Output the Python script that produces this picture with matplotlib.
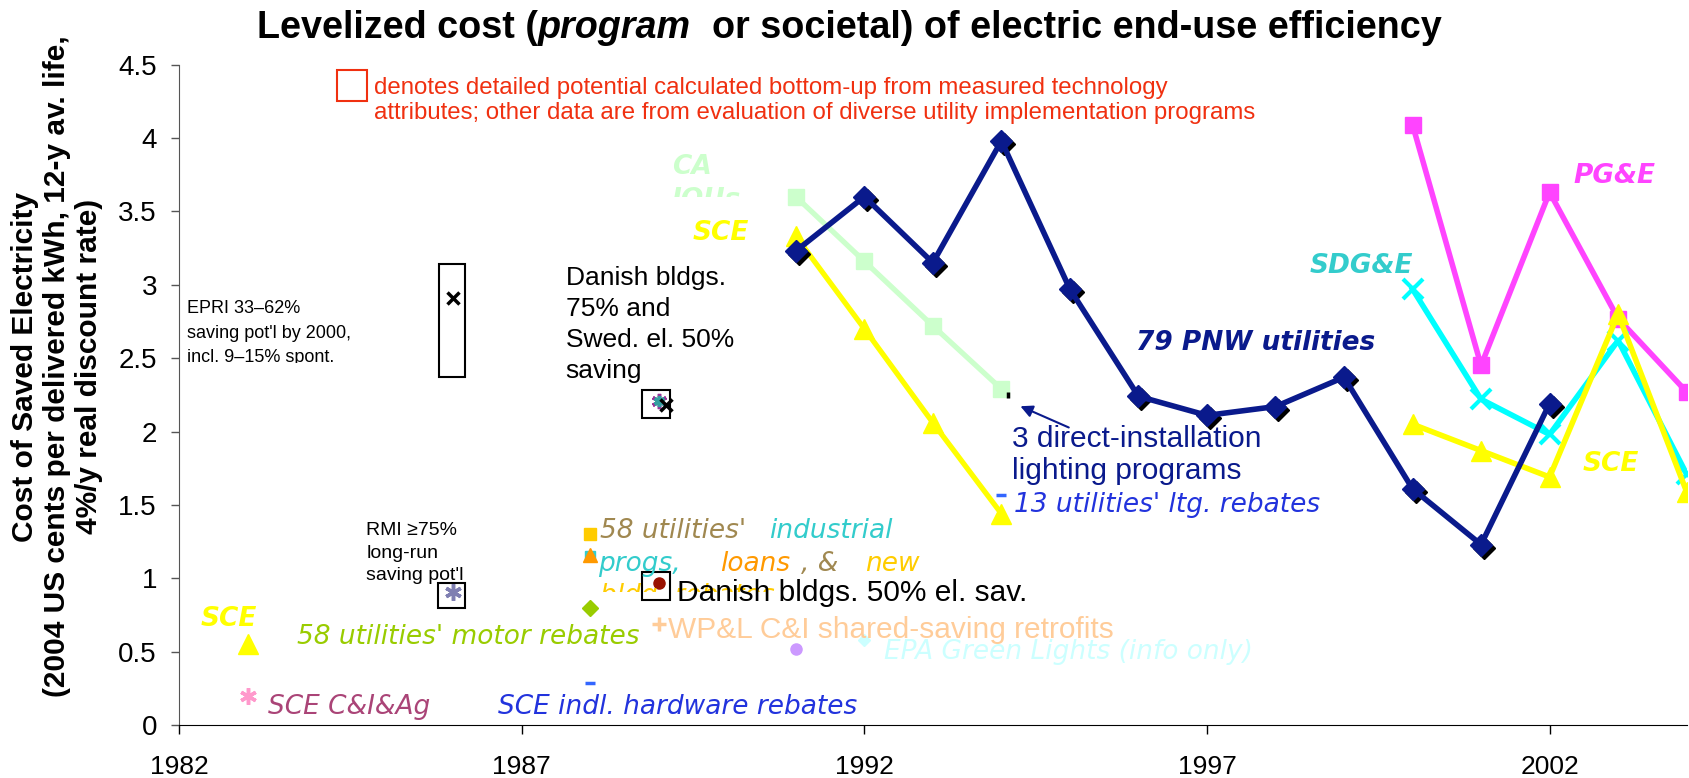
import matplotlib
matplotlib.use('Agg')
import matplotlib.pyplot as plt
from matplotlib.patches import Rectangle
from matplotlib.transforms import Bbox, TransformedBbox, ScaledTranslation

SANS = ['Liberation Sans', 'DejaVu Sans']
VERD = ['DejaVu Sans']

# main series
pnw_years = [1991, 1992, 1993, 1994, 1995, 1996, 1997, 1998, 1999, 2000, 2001, 2002]
pnw_cost = [3.23, 3.60, 3.15, 3.98, 2.97, 2.24, 2.11, 2.17, 2.37, 1.61, 1.23, 2.19]
ca_years = [1991, 1992, 1993, 1994]
ca_cost = [3.60, 3.16, 2.72, 2.29]
sce_early_years = [1991, 1992, 1993, 1994]
sce_early_cost = [3.33, 2.70, 2.06, 1.44]
late_years = [2000, 2001, 2002, 2003, 2004]
sce_late_cost = [2.05, 1.87, 1.69, 2.80, 1.59]
pge_cost = [4.09, 2.45, 3.63, 2.77, 2.27]
sdge_cost = [2.97, 2.22, 1.98, 2.62, 1.71]

# single points: year, cost, marker, colour, size
points = [
    (1983.0, 0.55, '^', '#ffff00', 14),
    (1983.0, 0.20, (6, 2, 0), '#ff99cc', 12),
    (1986.0, 0.91, (6, 2, 0), '#7f7fb2', 12),
    (1986.0, 2.91, 'x', '#000000', 8),
    (1989.0, 2.21, (6, 2, 0), '#993399', 11),
    (1989.0, 2.21, (6, 2, 0), '#33a0a0', 8),
    (1989.1, 2.18, 'x', '#000000', 8),
    (1988.0, 1.30, 's', '#ffcc00', 9),
    (1988.0, 1.15, 's', '#33cccc', 7),
    (1988.0, 1.16, '^', '#ff9900', 10),
    (1988.0, 0.80, 'D', '#99cc00', 8),
    (1988.0, 0.29, '_', '#3366ff', 7),
    (1989.0, 0.69, '+', '#ffcc99', 10),
    (1989.0, 0.97, 'o', '#991100', 8),
    (1991.0, 0.52, 'o', '#cc99ff', 8),
    (1992.0, 0.58, 'D', '#ccffff', 6),
    (1994.0, 1.57, '_', '#3366ff', 7),
    (1994.1, 2.25, '|', '#000000', 4),
]

# boxes: x0, x1, y0, y1
boxes = [
    (1985.79, 1986.17, 2.37, 3.14),
    (1985.78, 1986.17, 0.80, 0.97),
    (1988.75, 1989.17, 2.09, 2.28),
    (1988.75, 1989.17, 0.85, 1.04),
]

navy = '#0a1a8c'

fig = plt.figure(figsize=(16.9, 7.78), dpi=100)
ax = fig.add_axes([0.106, 0.068, 0.892, 0.849])
ax.set_xlim(1982, 2004)
ax.set_ylim(0, 4.5)

# CA IOUs and SCE early
ax.plot(ca_years, ca_cost, color='#ccffcc', lw=3.8, marker='s', ms=12, zorder=3)
ax.plot(sce_early_years, sce_early_cost, color='#ffff00', lw=3.8, marker='^', ms=14, zorder=4)
# PNW with black shadow on the diamonds
shadow = ax.transData + ScaledTranslation(3 / 100, -3 / 100, fig.dpi_scale_trans)
ax.plot(pnw_years, pnw_cost, color='black', lw=0, marker='D', ms=11, transform=shadow, zorder=5)
ax.plot(pnw_years, pnw_cost, color=navy, lw=4, marker='D', ms=11, zorder=6)
# late series
ax.plot(late_years, pge_cost, color='#ff44ff', lw=4, marker='s', ms=12, zorder=3)
ax.plot(late_years, sdge_cost, color='#00ffff', lw=4, marker='x', ms=14, mew=3, zorder=4)
ax.plot(late_years, sce_late_cost, color='#ffff00', lw=4, marker='^', ms=14, zorder=5)

for x, y, m, c, s in points:
    mew = 2.5 if m in ('x', '+', '_', '|') or isinstance(m, tuple) else 1
    ax.plot([x], [y], marker=m, color=c, ms=s, mew=mew, ls='none', zorder=7)

for x0, x1, y0, y1 in boxes:
    ax.add_patch(Rectangle((x0, y0), x1 - x0, y1 - y0, fill=False, ec='black', lw=1.5, zorder=8))

# red legend note
ax.add_patch(Rectangle((1984.30, 4.25), 0.44, 0.21, fill=False, ec='#f03010', lw=1.5, clip_on=False))
ax.text(1984.84, 4.34, 'denotes detailed potential calculated bottom-up from measured technology',
        color='#f03010', fontsize=17.3, va='center', family=SANS)
ax.text(1984.84, 4.17, 'attributes; other data are from evaluation of diverse utility implementation programs',
        color='#f03010', fontsize=17.3, va='center', family=SANS)


def label(x, y, s, color, size=19, style='italic', weight='normal', clip=None, family=None, **kw):
    if family is None:
        family = VERD if style == 'italic' else SANS
    t = ax.text(x, y, s, color=color, fontsize=size, style=style, weight=weight,
                va='center', ha='left', family=family, zorder=9, **kw)
    if clip is not None:
        t.set_clip_box(TransformedBbox(Bbox.from_extents(*clip), ax.transData))
        t.set_clip_on(True)
    return t


label(1989.19, 3.80, 'CA', '#ccffcc', 19, weight='bold')
label(1989.19, 3.58, 'IOUs', '#ccffcc', 19, weight='bold', clip=(1988, 3.60, 1992, 4))
label(1989.50, 3.35, 'SCE', '#ffff00', 19, weight='bold')
label(1987.64, 2.73, 'Danish bldgs.\n75% and\nSwed. el. 50%\nsaving', 'black', 19,
      style='normal', linespacing=1.36)
label(1982.12, 2.67, "EPRI 33\u201362%\nsaving pot'l by 2000,\nincl. 9\u201315% spont.", 'black', 13,
      style='normal', linespacing=1.57, clip=(1982, 2.47, 1986, 3.2))
label(1984.73, 1.17, "RMI \u226575%\nlong-run\nsaving pot'l", 'black', 14,
      style='normal', linespacing=1.43)
label(1982.31, 0.72, 'SCE', '#ffff00', 19, weight='bold')
label(1983.72, 0.60, "58 utilities' motor rebates", '#99cc00')
label(1983.30, 0.12, 'SCE C&I&Ag', '#aa4477')
label(1986.65, 0.12, 'SCE indl. hardware rebates', '#2233dd')
label(1988.14, 1.32, "58 utilities'", '#a08850')
label(1990.61, 1.32, 'industrial', '#33cccc')
label(1988.12, 1.10, 'progs,', '#33cccc')
label(1989.90, 1.10, 'loans', '#ff9900')
label(1991.08, 1.10, ', &', '#a08850')
label(1992.01, 1.10, 'new', '#ffcc00')
label(1988.14, 0.88, 'bldg. rebates', '#ffcc00', clip=(1988, 0.905, 1992, 1.0))
label(1989.27, 0.90, 'Danish bldgs. 50% el. sav.', 'black', 21.5, style='normal')
label(1989.14, 0.65, 'WP&L C&I shared-saving retrofits', '#ffcc99', 21.5, style='normal')
label(1992.28, 0.50, 'EPA Green Lights (info only)', '#ccffff')
label(1994.16, 1.84, '3 direct-installation\nlighting programs', navy, 21.5, style='normal',
      linespacing=1.14)
label(1994.19, 1.50, "13 utilities' ltg. rebates", '#2233dd')
label(1995.97, 2.60, '79 PNW utilities', navy, 19, weight='bold')
label(2002.35, 3.74, 'PG&E', '#ff44ff', 19, weight='bold')
label(1998.50, 3.13, 'SDG&E', '#33cccc', 19, weight='bold')
label(2002.48, 1.78, 'SCE', '#ffff00', 19, weight='bold')

ax.annotate('', xy=(1994.24, 2.18), xytext=(1995.02, 2.02),
            arrowprops=dict(arrowstyle='-|>', color=navy, lw=1.5, mutation_scale=18))

for side in ['top', 'right']:
    ax.spines[side].set_visible(False)
ax.spines['left'].set_color('#555555')
ax.set_xticks([1982, 1987, 1992, 1997, 2002])
ax.set_yticks([0, 0.5, 1, 1.5, 2, 2.5, 3, 3.5, 4, 4.5])
ax.set_yticklabels(['0', '0.5', '1', '1.5', '2', '2.5', '3', '3.5', '4', '4.5'])
ax.tick_params(axis='x', labelsize=19, length=6.5, width=1, pad=15)
ax.tick_params(axis='y', labelsize=20, length=6, width=1, pad=10, color='#555555')
for t in ax.get_xticklabels() + ax.get_yticklabels():
    t.set_family(SANS)

# title in three pieces so "program" can be bold italic
t1 = fig.text(0.152, 0.951, 'Levelized cost (', fontsize=27.2, weight='bold', family=SANS, va='baseline')
t2 = ax.annotate('program', xy=(1, 0), xycoords=t1, va='bottom', ha='left', fontsize=27.2,
                 weight='bold', style='italic', family=SANS, annotation_clip=False)
ax.annotate('  or societal) of electric end-use efficiency', xy=(1, 0), xycoords=t2,
            va='bottom', ha='left', fontsize=27.2, weight='bold', family=SANS, annotation_clip=False)

fig.text(0.0337, 0.529,
         'Cost of Saved Electricity\n(2004 US cents per delivered kWh, 12-y av. life,\n4%/y real discount rate)',
         ha='center', va='center', rotation=90, fontsize=21.5, weight='bold', family=SANS,
         linespacing=1.2)

fig.savefig('out.png', dpi=100)
